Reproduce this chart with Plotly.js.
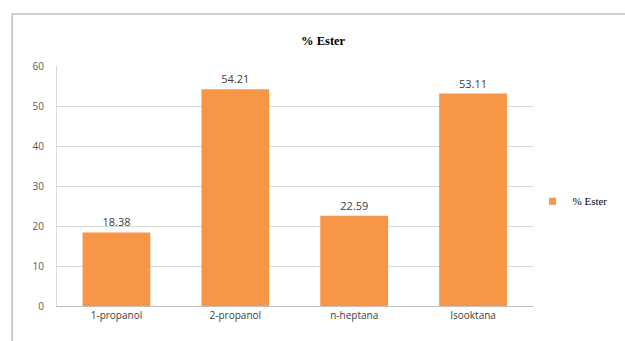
<!DOCTYPE html>
<html>
<head>
<meta charset="utf-8">
<script src="https://cdn.plot.ly/plotly-3.0.1.min.js"></script>
<style>html,body{margin:0;padding:0;background:#fff;}#chart{width:625px;height:341px;}</style>
</head>
<body>
<div id="chart"></div>
<script>
const categories = ['1-propanol', '2-propanol', 'n-heptana', 'Isooktana'];
const esterValues = [18.38, 54.21, 22.59, 53.11];
const seriesName = '% Ester';
const yTicks = [0, 10, 20, 30, 40, 50, 60];
const barColor = '#F79646';

const trace = {
  type: 'bar',
  x: categories,
  y: esterValues,
  name: seriesName,
  marker: {color: barColor},
  texttemplate: '%{y:.2f}',
  textposition: 'outside',
  textfont: {family: 'Open Sans, Liberation Sans, sans-serif', size: 11, color: '#404040'},
  cliponaxis: false,
  showlegend: false
};
// legend entry only (small square swatch like the reference)
const legendTrace = {
  type: 'scatter', mode: 'markers', x: [null], y: [null], name: seriesName,
  marker: {symbol: 'square', size: 7, color: barColor}, showlegend: true, hoverinfo: 'skip'
};

const layout = {
  width: 625, height: 341,
  margin: {l: 57, r: 91, t: 66, b: 35},
  paper_bgcolor: '#ffffff', plot_bgcolor: '#ffffff',
  title: {text: '<b>% Ester</b>', x: 0.517, xanchor: 'center', y: 0.88, yanchor: 'middle',
          font: {family: 'Liberation Serif, Times New Roman, serif', size: 12.5, color: '#000'}},
  bargap: 0.43,
  xaxis: {
    showline: true, linecolor: '#bfbfbf', linewidth: 1,
    ticks: '', tickfont: {family: 'Open Sans, Liberation Sans, sans-serif', size: 10, color: '#404040'},
    fixedrange: true
  },
  yaxis: {
    range: [0, 60], tickvals: yTicks, ticktext: yTicks.map(String),
    showgrid: true, gridcolor: '#d9d9d9', gridwidth: 1,
    showline: true, linecolor: '#d9d9d9', linewidth: 1,
    zeroline: false, ticks: '', ticklabelstandoff: 10,
    tickfont: {family: 'Open Sans, Liberation Sans, sans-serif', size: 10, color: '#595959'}
  },
  showlegend: true,
  legend: {xref: 'container', yref: 'container', x: 0.852, y: 0.41, xanchor: 'left', yanchor: 'middle',
           bgcolor: 'rgba(0,0,0,0)',
           font: {family: 'Liberation Serif, Times New Roman, serif', size: 11, color: '#000'},
           itemwidth: 30},
  shapes: [{type: 'rect', xref: 'paper', yref: 'paper', x0: -0.0943, x1: 1.3, y0: -0.3, y1: 1.2167,
            line: {color: '#bfbfbf', width: 1.5}, fillcolor: 'rgba(0,0,0,0)', layer: 'below'}]
};

Plotly.newPlot('chart', [trace, legendTrace], layout, {displayModeBar: false, staticPlot: true});
</script>
</body>
</html>
